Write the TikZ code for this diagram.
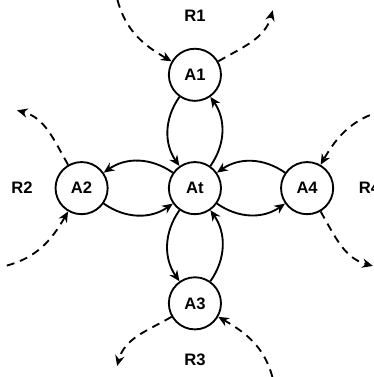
\documentclass[tikz,border=0pt]{standalone}
\usepackage{fontspec}
\setmainfont{Liberation Sans}
\usetikzlibrary{arrows.meta}

\begin{document}
\begin{tikzpicture}[
    agent/.style = {circle, draw, line width=1.4pt, minimum size=1.38cm, inner sep=0pt, font=\fontsize{12.5}{15}\selectfont\bfseries},
    link/.style = {-{Stealth[length=8pt, width=7pt]}, line width=1.4pt},
    flow/.style = {-{Stealth[length=8pt, width=7pt]}, line width=1.4pt, dash pattern=on 6pt off 4.5pt},
    region/.style = {font=\fontsize{12.5}{15}\selectfont\bfseries}
]
    \useasboundingbox (-5.16,-5.0) rectangle (4.74,4.98);

    \node [agent] (At) at (0,0) {At};
    \node [agent] (A1) at (0,3) {A1};
    \node [agent] (A2) at (-3,0) {A2};
    \node [agent] (A3) at (0,-3.05) {A3};
    \node [agent] (A4) at (2.97,0) {A4};

    \node [region] (R1) at (0,4.55) {R1};
    \node [region] (R2) at (-4.58,0) {R2};
    \node [region] (R3) at (0,-4.55) {R3};
    \node [region] (R4) at (4.62,0) {R4};

    % links with the centre
    \draw [link] (A1) to [bend right=35] (At);
    \draw [link] (At) to [bend right=35] (A1);
    \draw [link] (A2) to [bend right=35] (At);
    \draw [link] (At) to [bend right=35] (A2);
    \draw [link] (A3) to [bend right=35] (At);
    \draw [link] (At) to [bend right=35] (A3);
    \draw [link] (A4) to [bend right=35] (At);
    \draw [link] (At) to [bend right=35] (A4);

    % flows in and out of each region
    \coordinate (in1) at (-2.05,4.98);
    \coordinate (out1) at (2.06,4.71);
    \coordinate (in2) at (-4.98,-2.05);
    \coordinate (out2) at (-4.71,2.06);
    \coordinate (in3) at (2.05,-5.0);
    \coordinate (out3) at (-2.06,-4.71);
    \coordinate (in4) at (4.98,2.05);
    \coordinate (out4) at (4.71,-2.06);

    \draw [flow] (in1) to [out=-75, in=150] (A1);
    \draw [flow] (A1) to [out=30, in=-105] (out1);
    \draw [flow] (in2) to [out=15, in=240] (A2);
    \draw [flow] (A2) to [out=120, in=-15] (out2);
    \draw [flow] (in3) to [out=105, in=330] (A3);
    \draw [flow] (A3) to [out=210, in=75] (out3);
    \draw [flow] (in4) to [out=195, in=60] (A4);
    \draw [flow] (A4) to [out=300, in=165] (out4);
\end{tikzpicture}
\end{document}
